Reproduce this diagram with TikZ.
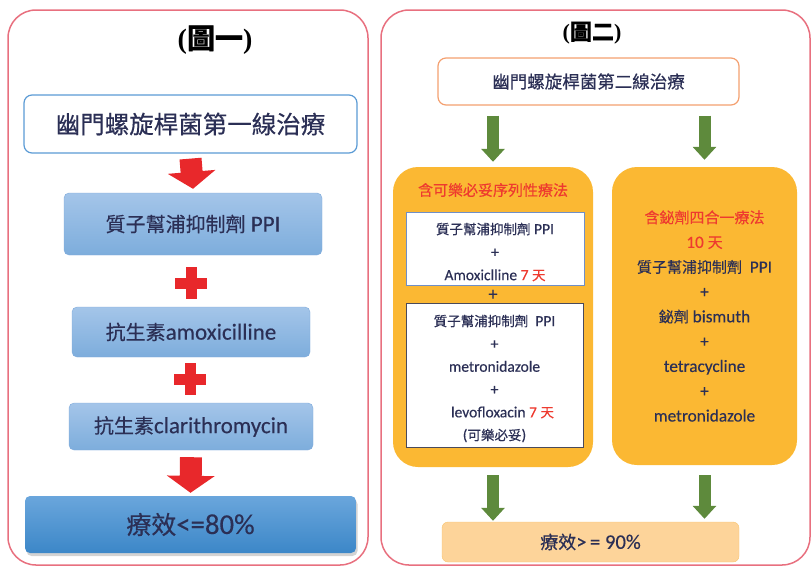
\documentclass[tikz,border=0pt]{standalone}
\usepackage{fontspec}
\usetikzlibrary{arrows.meta, shadows}
\setmainfont[Scale=1.15, FakeBold=0.3]{Carlito}
\newfontfamily\cjk[FakeBold=0.4]{Noto Sans CJK TC}
\newfontfamily\titleserif{Liberation Serif}
\definecolor{txt}{HTML}{2B2F55}
\definecolor{txtred}{HTML}{EE3A2F}
\definecolor{panelred}{HTML}{E8707F}
\definecolor{firstblue}{HTML}{5B9BD5}
\definecolor{firstorange}{HTML}{F4A070}
\definecolor{boxtop}{HTML}{A4C5E9}
\definecolor{boxbot}{HTML}{7DADDC}
\definecolor{boxline}{HTML}{7FAADB}
\definecolor{efftop}{HTML}{6AA6DC}
\definecolor{effbot}{HTML}{3C87C8}
\definecolor{arrred}{HTML}{E8282B}
\definecolor{arrgreen}{HTML}{5E8A3C}
\definecolor{orbg}{HTML}{FBB833}
\definecolor{efforange}{HTML}{FDD49A}
\definecolor{effline}{HTML}{F9C46E}
\definecolor{inblue}{HTML}{6F8FC8}
\definecolor{indark}{HTML}{4A4A5A}
\newcommand\fs[2]{\fontsize{#1}{#2}\selectfont}
\newcommand\redplus[1]{%
  \fill[arrred] ([shift={(-16,-5.5)}]#1) rectangle ([shift={(16,5.5)}]#1);
  \fill[arrred] ([shift={(-5.5,-16)}]#1) rectangle ([shift={(5.5,16)}]#1);}
\tikzset{
  panel/.style={draw=panelred, line width=1.5pt, rounded corners=28pt},
  firstbox/.style={draw=#1, line width=1.2pt, fill=white, rounded corners=8pt, text=txt},
  bluebox/.style={draw=boxline, top color=boxtop, bottom color=boxbot, rounded corners=5pt, text=txt, font=\fs{20}{24}},
  orbox/.style={fill=orbg, rounded corners=25pt, text=txt},
  inbox/.style={draw=#1, line width=1pt, fill=white},
  intext/.style={text=txt, align=center, font=\fs{13.5}{#1}},
  redarr/.style={draw=arrred, line width=22pt, -{Triangle[length=17pt, width=47pt]}},
  greenarr/.style={draw=arrgreen, line width=12pt, -{Triangle[length=13pt, width=23pt]}}
}
\begin{document}
\begin{tikzpicture}[x=1pt, y=-1pt]
    \useasboundingbox (0,0) rectangle (811,566);
    \draw[panel] (8,10) rectangle (368,565);
    \draw[panel] (381,10) rectangle (810,565);

    \node[font=\fs{28}{30}\bfseries] (title1) at (215,40) {{\titleserif(}{\cjk 圖一}{\titleserif)}};
    \node[firstbox=firstblue, minimum width=333pt, minimum height=58pt, font=\fs{24.5}{28}] (first1) at (190.5,124) {\cjk 幽門螺旋桿菌第一線治療};
    \node[bluebox, minimum width=258pt, minimum height=62pt] (ppi1) at (193,224) {{\cjk 質子幫浦抑制劑} PPI};
    \node[bluebox, minimum width=238pt, minimum height=50pt] (amox) at (191,332) {{\cjk 抗生素}amoxicilline};
    \node[bluebox, minimum width=244pt, minimum height=47pt] (clar) at (191,426.5) {{\cjk 抗生素}clarithromycin};
    \node[bluebox, top color=efftop, bottom color=effbot, draw=none, minimum width=331pt, minimum height=57pt, font=\fs{25}{30},
        drop shadow={opacity=0.35, shadow xshift=1.5pt, shadow yshift=-3pt}] (eff1) at (190.5,524.5) {{\cjk 療效}<=80\%};
    \coordinate (plus1) at (191,283);
    \coordinate (plus2) at (190,379);
    \redplus{plus1}
    \redplus{plus2}
    \draw[redarr] ([yshift=-5pt]first1.south) -- ([yshift=4pt]ppi1.north);
    \draw[redarr] ([yshift=-7pt]clar.south) -- ([yshift=3pt]eff1.north);

    \node[font=\fs{22}{24}\bfseries] (title2) at (592,33) {{\titleserif(}{\cjk 圖二}{\titleserif)}};
    \node[firstbox=firstorange, minimum width=301pt, minimum height=47pt, font=\fs{17.5}{20}] (first2) at (588.5,81.5) {\cjk 幽門螺旋桿菌第二線治療};
    \node[orbox, minimum width=200pt, minimum height=300pt] (lbox) at (493,317) {};
    \node[text=txtred, font=\fs{15}{18}] (lhead) at (493,190) {\cjk 含可樂必妥序列性療法};
    \node[inbox=inblue, minimum width=178pt, minimum height=73pt] (in1) at (495,248.5) {};
    \node[intext=23] (in1txt) at ([yshift=-3.5pt]in1.center)
        {{\cjk 質子幫浦抑制劑} PPI\\ +\\ Amoxiclline {\color{txtred}7 {\cjk 天}}};
    \node[text=txt, font=\fs{16}{18}] (plus3) at (493,295) {+};
    \node[inbox=indark, minimum width=177pt, minimum height=144pt] (in2) at (494.5,375) {};
    \node[intext=22.8] (in2txt) at ([yshift=-3.5pt]in2.center)
        {{\cjk 質子幫浦抑制劑}\ \ PPI\\ +\\ metronidazole\\ +\\ \hspace{16pt}levofloxacin {\color{txtred}7 {\cjk 天}}\\ ({\cjk 可樂必妥})};
    \node[orbox, minimum width=185pt, minimum height=298pt, align=center, font=\fs{15}{24.8}] (rbox) at (704.5,316)
        {{\color{txtred}\cjk 含鉍劑四合一療法}\\ {\color{txtred}10 {\cjk 天}}\\ {\cjk 質子幫浦抑制劑}\ \ PPI\\ +\\ {\cjk 鉍劑} bismuth\\ +\\ tetracycline\\ +\\ metronidazole};
    \node[fill=efforange, draw=effline, rounded corners=6pt, minimum width=297pt, minimum height=40pt, text=txt, font=\fs{18}{21}] (eff2) at (590.5,542) {{\cjk 療效}>\,= 90\%};
    \draw[greenarr] ([yshift=-10pt]first2.south -| lbox.north) -- ([yshift=5pt]lbox.north);
    \draw[greenarr] ([yshift=-10pt]first2.south -| rbox.north) -- ([yshift=7pt]rbox.north);
    \draw[greenarr] ([yshift=-8pt]lbox.south) -- ([yshift=1pt]eff2.north -| lbox.south);
    \draw[greenarr] ([yshift=-10pt]rbox.south) -- ([yshift=3pt]eff2.north -| rbox.south);
\end{tikzpicture}
\end{document}
